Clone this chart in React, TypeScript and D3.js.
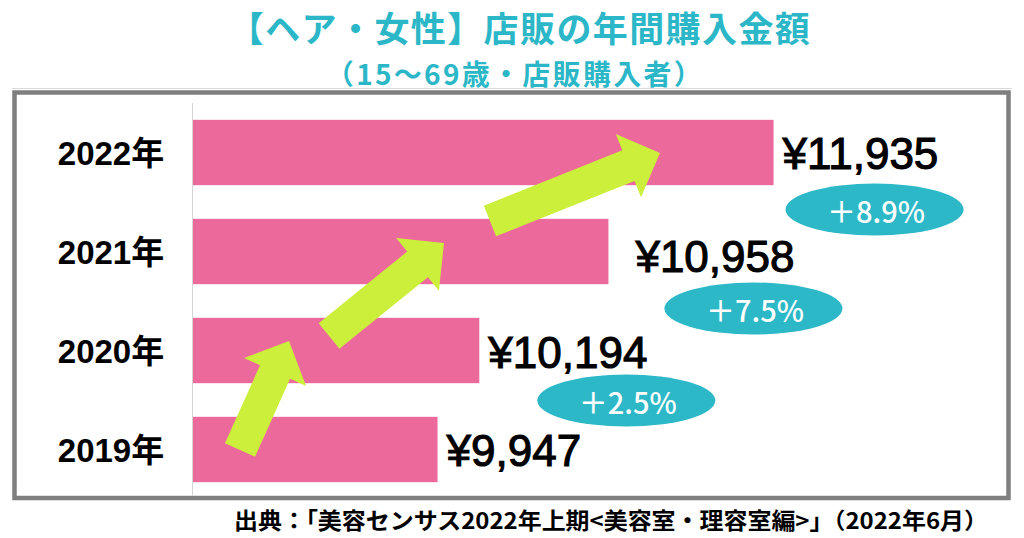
import * as d3 from 'd3';
import { useEffect, useRef } from 'react';

// data
const years = ["2022年", "2021年", "2020年", "2019年"];
const spend = [11935, 10958, 10194, 9947];

const title = "【ヘア・女性】店販の年間購入金額";
const subtitle = "（15～69歳・店販購入者）";
const source = "出典：「美容センサス2022年上期<美容室・理容室編>」（2022年6月）";

// hand placed tweaks (px), same as the original slide
const labelNudge = [[9, 16], [27, 20], [9, 17], [9, 16]];
const badgeNudge = [[101, 57], [145, 57], [147, 50]];

// arrows: [value, year, dy] for tail and tip
const arrows: [number, string, number, number, string, number][] = [
    [8778, "2019年", 0.5, 9068, "2020年", -9.5],
    [9305, "2020年", -14.5, 9985, "2021年", -8.5],
    [10257, "2021年", -30.5, 11263, "2022年", 0.5],
];

const W = 1024, H = 538;
const PINK = "#ec6a9b";
const TEAL = "#2bb7c7";
const LIME = "#ccef3c";
const JP = "'Noto Sans CJK JP', 'Noto Sans', sans-serif";

export default function App() {
    const ref = useRef<SVGSVGElement>(null);

    useEffect(() => {
        const svg = d3.select(ref.current);
        svg.selectAll("*").remove();

        svg.append("rect").attr("width", W).attr("height", H).attr("fill", "#fff");

        // titles
        svg.append("text")
            .attr("x", 520).attr("y", 42)
            .attr("text-anchor", "middle")
            .style("font-family", JP).style("font-weight", 700).style("font-size", "35px")
            .style("letter-spacing", "1.4px")
            .attr("fill", TEAL)
            .text(title);
        svg.append("text")
            .attr("x", 515).attr("y", 84.5)
            .attr("text-anchor", "middle")
            .style("font-family", JP).style("font-weight", 700).style("font-size", "28px")
            .style("letter-spacing", "2.3px")
            .attr("fill", TEAL)
            .text(subtitle);

        // frame
        svg.append("line").attr("x1", 12).attr("x2", 1012).attr("y1", 88.5).attr("y2", 88.5)
            .attr("stroke", "#d9d9d9").attr("stroke-width", 1);
        svg.append("rect")
            .attr("x", 14.5).attr("y", 92.5).attr("width", 994).attr("height", 405.5)
            .attr("fill", "none").attr("stroke", "#7f7f7f").attr("stroke-width", 4.5);

        const x = d3.scaleLinear().domain([8500, 12000]).range([193, 193 + 3500 * 0.16901]);
        const y = d3.scaleBand<string>().domain(years).range([103, 499])
            .paddingInner(0.34).paddingOuter(0.17);
        const cy = (yr: string) => y(yr)! + y.bandwidth() / 2;

        // axis line
        svg.append("line").attr("x1", 192.5).attr("x2", 192.5).attr("y1", 103).attr("y2", 496)
            .attr("stroke", "#d4d4d4").attr("stroke-width", 1);

        // bars
        svg.append("g").selectAll("rect")
            .data(years)
            .join("rect")
            .attr("x", x(8500))
            .attr("y", d => y(d)!)
            .attr("width", (d, i) => x(spend[i]) - x(8500))
            .attr("height", y.bandwidth())
            .attr("fill", PINK);

        // category labels
        svg.append("g").selectAll("text")
            .data(years)
            .join("text")
            .attr("x", 111)
            .attr("y", d => cy(d) + 12.5)
            .attr("text-anchor", "middle")
            .style("font-family", "'Liberation Sans', 'Noto Sans CJK JP', sans-serif")
            .style("font-weight", 700).style("font-size", "33px")
            .attr("fill", "#000")
            .text(d => d);

        // arrows
        const arrowPoly = (a: typeof arrows[number]) => {
            const x0 = x(a[0]), y0 = cy(a[1]) + a[2];
            const x1 = x(a[3]), y1 = cy(a[4]) + a[5];
            const len = Math.hypot(x1 - x0, y1 - y0);
            const ux = (x1 - x0) / len, uy = (y1 - y0) / len;
            const px = -uy, py = ux;
            const shaft = 16.5, head = 34, headLen = 34;
            const bx = x1 - ux * headLen, by = y1 - uy * headLen;
            const pts: [number, number][] = [
                [x0 + px * shaft, y0 + py * shaft],
                [bx + px * shaft, by + py * shaft],
                [bx + px * head, by + py * head],
                [x1, y1],
                [bx - px * head, by - py * head],
                [bx - px * shaft, by - py * shaft],
                [x0 - px * shaft, y0 - py * shaft],
            ];
            return "M" + pts.map(p => p.join(",")).join("L") + "Z";
        };
        svg.append("g").selectAll("path")
            .data(arrows)
            .join("path")
            .attr("d", arrowPoly)
            .attr("fill", LIME);

        // value labels
        svg.append("g").selectAll("text")
            .data(years)
            .join("text")
            .attr("x", (d, i) => x(spend[i]) + labelNudge[i][0])
            .attr("y", (d, i) => cy(d) + labelNudge[i][1])
            .style("font-family", "'Liberation Sans', sans-serif")
            .style("font-weight", 400).style("font-size", "44px")
            .attr("fill", "#000").attr("stroke", "#000").attr("stroke-width", 1.1)
            .text((d, i) => "¥" + d3.format(",")(spend[i]));

        // growth badges
        const growth = years.slice(0, -1).map((yr, i) => ({
            yr, i, pct: (spend[i] / spend[i + 1] - 1) * 100,
        }));
        const badges = svg.append("g").selectAll("g")
            .data(growth)
            .join("g")
            .attr("transform", d => `translate(${x(spend[d.i]) + badgeNudge[d.i][0]},${cy(d.yr) + badgeNudge[d.i][1]})`);
        badges.append("ellipse")
            .attr("rx", 89).attr("ry", 26)
            .attr("fill", "#2db8c8");
        badges.append("text")
            .attr("x", 1.5).attr("y", 13)
            .attr("text-anchor", "middle")
            .style("font-family", JP).style("font-weight", 500).style("font-size", "29px")
            .attr("fill", "#fff")
            .text(d => `＋${d.pct.toFixed(1)}%`);

        // source
        svg.append("text")
            .attr("x", 234).attr("y", 529)
            .attr("textLength", 754).attr("lengthAdjust", "spacingAndGlyphs")
            .style("font-family", JP).style("font-weight", 700).style("font-size", "22.5px")
            .attr("fill", "#000")
            .text(source);
    }, []);

    return (
        <svg ref={ref} width={W} height={H}
            style={{ position: "absolute", left: 0, top: 0, display: "block" }} />
    );
}
